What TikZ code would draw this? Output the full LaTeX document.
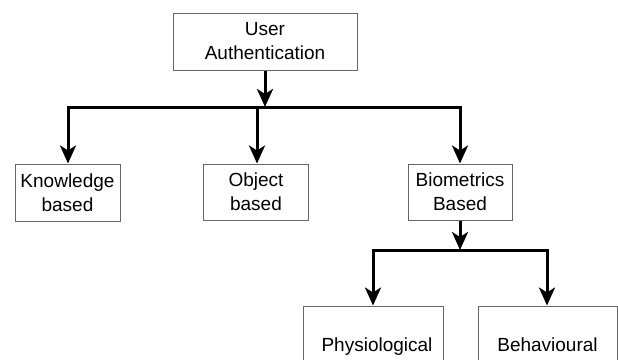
\documentclass[tikz,border=0pt]{standalone}
\usepackage{fontspec}
\setmainfont{Liberation Sans}
\usetikzlibrary{arrows.meta}
\begin{document}
\begin{tikzpicture}[x=1pt,y=-1pt,
  box/.style={draw=black!60,line width=1pt,rectangle,inner sep=0pt,align=center,
    font=\fontsize{19}{24}\selectfont,fill=white},
  conn/.style={line width=3pt,line cap=rect},
  arr/.style={line width=3pt,-{Stealth[length=18pt,width=16pt,inset=5pt]}}]
\useasboundingbox (0,0) rectangle (618,359);
\clip (0,0) rectangle (618,359);
\node[box,minimum width=184pt,minimum height=57pt] (ua) at (265,41.5) {User\\Authentication};
\node[box,minimum width=105pt,minimum height=57pt] (kb) at (67.5,192.5) {Knowledge\\based};
\node[box,minimum width=105pt,minimum height=56pt] (ob) at (256,192) {Object\\based};
\node[box,minimum width=104pt,minimum height=56pt] (bb) at (460,192) {Biometrics\\Based};
\node[box,minimum width=140pt,minimum height=82pt] (ph) at (373,347) {\hspace*{8pt}Physiological\strut};
\node[box,minimum width=139pt,minimum height=82pt] (be) at (547.5,347) {Behavioural\strut};
\coordinate (barL) at (68,107);
\coordinate (barM) at (265,107);
\coordinate (barO) at (257,107);
\coordinate (barR) at (460,107);
\coordinate (lowM) at (460,250);
\coordinate (lowL) at (373,250);
\coordinate (lowR) at (547,250);
\draw[conn] (barL) -- (barR);
\draw[arr] (ua.south) -- (barM);
\draw[arr] (barL) -- (barL |- kb.north);
\draw[arr] (barO) -- (barO |- ob.north);
\draw[arr] (barR) -- (bb.north);
\draw[conn] (lowL) -- (lowR);
\draw[arr] (bb.south) -- (lowM);
\draw[arr] (lowL) -- (ph.north);
\draw[arr] (lowR) -- (lowR |- be.north);
\end{tikzpicture}
\end{document}
